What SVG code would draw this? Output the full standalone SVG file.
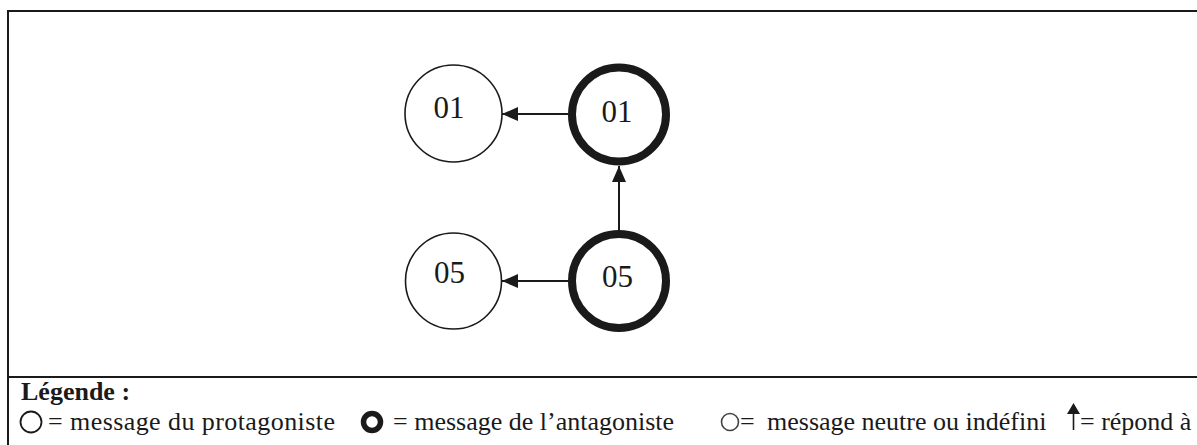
<svg xmlns="http://www.w3.org/2000/svg" width="1197" height="445" viewBox="0 0 1197 445">
  <style>
    .frame { stroke: #1a1a1a; stroke-width: 2; fill: none; }
    .msg { fill: #fff; stroke: #1a1a1a; stroke-width: 1.6; }
    .anta { fill: #fff; stroke: #1a1a1a; stroke-width: 8; }
    .label { font-family: "Liberation Serif", "Times New Roman", serif; font-size: 31px; fill: #1a1a1a; text-anchor: middle; }
    .edge { stroke: #1a1a1a; stroke-width: 2; fill: none; marker-end: url(#head); }
    .legend { font-family: "Liberation Serif", "Times New Roman", serif; font-size: 26px; fill: #1a1a1a; }
    .legend-title { font-weight: bold; }
  </style>
  <defs>
    <marker id="head" markerUnits="userSpaceOnUse" markerWidth="16" markerHeight="14" refX="16" refY="7" orient="auto">
      <path d="M0,0 L16,7 L0,14 Z" fill="#1a1a1a"/>
    </marker>
  </defs>

  <rect width="1197" height="445" fill="#fff"/>

  <!-- frame of the figure and legend box -->
  <g id="frame">
    <line class="frame" x1="8" y1="11" x2="1197" y2="11"/>
    <line class="frame" x1="8" y1="10" x2="8" y2="445"/>
    <line class="frame" x1="8" y1="377" x2="1197" y2="377"/>
  </g>

  <!-- connectors: "répond à" -->
  <g id="connectors">
    <line class="edge" x1="568" y1="114" x2="502" y2="114"/>
    <line class="edge" x1="568" y1="281" x2="502" y2="281"/>
    <line class="edge" x1="619" y1="230" x2="619" y2="166"/>
  </g>

  <g id="node-p01">
    <circle class="msg" cx="453.5" cy="113.5" r="48.5"/>
    <text class="label" x="449" y="118">01</text>
  </g>
  <g id="node-a01">
    <circle class="anta" cx="619" cy="114.5" r="47"/>
    <text class="label" x="617" y="122">01</text>
  </g>
  <g id="node-p05">
    <circle class="msg" cx="453.5" cy="281" r="48"/>
    <text class="label" x="449.5" y="283">05</text>
  </g>
  <g id="node-a05">
    <circle class="anta" cx="619" cy="281" r="47"/>
    <text class="label" x="617.5" y="287">05</text>
  </g>

  <!-- legend -->
  <g id="legend">
    <text class="legend legend-title" x="21" y="400">Légende :</text>
    <circle cx="31" cy="422" r="10.5" fill="none" stroke="#1a1a1a" stroke-width="1.8"/>
    <text class="legend" x="48" y="430" textLength="287" lengthAdjust="spacing">= message du protagoniste</text>
    <circle cx="372" cy="422" r="8.5" fill="none" stroke="#1a1a1a" stroke-width="5.5"/>
    <text class="legend" x="393" y="430">= message de l’antagoniste</text>
    <circle cx="730" cy="422" r="8.5" fill="none" stroke="#444" stroke-width="1.6"/>
    <text class="legend" x="740" y="430">=</text>
    <text class="legend" x="767" y="430">message neutre ou indéfini</text>
    <line x1="1073.5" y1="430" x2="1073.5" y2="412" stroke="#1a1a1a" stroke-width="1.6"/>
    <path d="M1067,414 L1073.5,403 L1080,414 Z" fill="#1a1a1a"/>
    <text class="legend" x="1080" y="430">= répond à</text>
  </g>
</svg>
